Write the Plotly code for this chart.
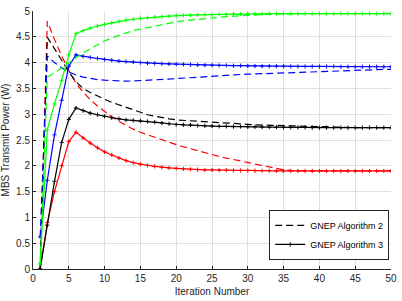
import plotly.graph_objects as go

iterations = list(range(1, 51))

red_alg2 = [0.0, 4.8, 4.45, 4.13, 3.85, 3.6, 3.43, 3.28, 3.16, 3.05,
            2.95, 2.86, 2.78, 2.71, 2.65, 2.6, 2.55, 2.5, 2.45, 2.41,
            2.37, 2.33, 2.29, 2.25, 2.21, 2.18, 2.15, 2.12, 2.09, 2.06,
            2.03, 2.0, 1.97, 1.94, 1.92, 1.91] + [1.9] * 14
red_alg3 = [0.0, 0.9, 1.5, 2.0, 2.47, 2.65, 2.54, 2.44, 2.35, 2.27,
            2.21, 2.15, 2.1, 2.06, 2.03, 2.01, 1.99, 1.97, 1.96, 1.95,
            1.94, 1.93, 1.925, 1.92, 1.92, 1.915, 1.915, 1.91, 1.91, 1.91,
            1.905, 1.905, 1.905, 1.9] + [1.9] * 16
black_alg2 = [0.0, 4.49, 4.27, 4.04, 3.82, 3.63, 3.5, 3.42, 3.35, 3.29,
              3.23, 3.18, 3.13, 3.08, 3.03, 2.99, 2.96, 2.93, 2.91, 2.89,
              2.88, 2.87, 2.86, 2.85, 2.84, 2.83, 2.82, 2.815, 2.81, 2.8,
              2.795, 2.79, 2.785, 2.78, 2.775, 2.77, 2.765, 2.76, 2.755, 2.75,
              2.75, 2.745, 2.745, 2.745, 2.74] + [2.74] * 5
black_alg3 = [0.0, 0.85, 1.7, 2.45, 2.9, 3.12, 3.07, 3.02, 2.99, 2.96,
              2.93, 2.91, 2.89, 2.88, 2.87, 2.86, 2.845, 2.83, 2.815, 2.8,
              2.795, 2.79, 2.78, 2.775, 2.77, 2.765, 2.765, 2.76, 2.76, 2.755,
              2.755, 2.75, 2.75, 2.75, 2.745, 2.745, 2.745, 2.745, 2.74] + [2.74] * 11
blue_alg2 = [0.62, 4.13, 4.0, 3.9, 3.82, 3.76, 3.72, 3.69, 3.67, 3.66,
             3.65, 3.645, 3.64, 3.645, 3.65, 3.655, 3.66, 3.67, 3.68, 3.69,
             3.7, 3.71, 3.72, 3.73, 3.74, 3.75, 3.755, 3.76, 3.77, 3.775,
             3.78, 3.79, 3.795, 3.8, 3.81, 3.815, 3.82, 3.825, 3.83, 3.835,
             3.84, 3.845, 3.85, 3.853, 3.856, 3.86, 3.863, 3.866, 3.868, 3.87]
blue_alg3 = [0.62, 1.72, 2.6, 3.27, 3.93, 4.15, 4.12, 4.1, 4.08, 4.06,
             4.045, 4.03, 4.02, 4.01, 4.0, 3.99, 3.985, 3.98, 3.975, 3.97,
             3.965, 3.96, 3.955, 3.95, 3.95, 3.945, 3.945, 3.94, 3.94, 3.935,
             3.935, 3.93, 3.93, 3.93, 3.93] + [3.925] * 7 + [3.92] * 8
green_alg2 = [0.1, 3.72, 3.8, 3.9, 4.0, 4.1, 4.19, 4.27, 4.35, 4.42,
              4.48, 4.53, 4.58, 4.62, 4.65, 4.68, 4.71, 4.74, 4.765, 4.79,
              4.81, 4.825, 4.84, 4.855, 4.87, 4.88, 4.89, 4.9, 4.91, 4.92,
              4.925, 4.93, 4.935, 4.94, 4.945] + [4.95] * 15
green_alg3 = [0.1, 2.7, 3.2, 3.65, 4.15, 4.56, 4.62, 4.67, 4.71, 4.74,
              4.77, 4.8, 4.82, 4.84, 4.855, 4.87, 4.88, 4.89, 4.9, 4.91,
              4.915, 4.92, 4.925, 4.93, 4.93, 4.935, 4.935, 4.94, 4.94, 4.945,
              4.945, 4.945] + [4.95] * 18

x_ticks = [0, 5, 10, 15, 20, 25, 30, 35, 40, 45, 50]
y_ticks = [0, 0.5, 1, 1.5, 2, 2.5, 3, 3.5, 4, 4.5, 5]
legend_names = ["GNEP Algorithm 2", "GNEP Algorithm 3"]

series = [
    ("#ff0000", red_alg2, red_alg3),
    ("#000000", black_alg2, black_alg3),
    ("#0000ff", blue_alg2, blue_alg3),
    ("#00ff00", green_alg2, green_alg3),
]

DASH = "7px,4px"
fig = go.Figure()
for color, a2, a3 in series:
    fig.add_trace(go.Scatter(x=iterations, y=a2, mode="lines",
                             line=dict(color=color, width=1.2, dash=DASH),
                             showlegend=False, hoverinfo="skip"))
    fig.add_trace(go.Scatter(x=iterations, y=a3, mode="lines+markers",
                             line=dict(color=color, width=1.2),
                             marker=dict(symbol="cross-thin", size=3,
                                         color=color, line=dict(width=1, color=color)),
                             showlegend=False, hoverinfo="skip"))

# legend entries
fig.add_trace(go.Scatter(x=[None], y=[None], mode="lines", name=legend_names[0],
                         line=dict(color="#000000", width=1.2, dash=DASH)))
fig.add_trace(go.Scatter(x=[None], y=[None], mode="lines+markers", name=legend_names[1],
                         line=dict(color="#000000", width=1.2),
                         marker=dict(symbol="cross-thin", size=3, color="#000000",
                                     line=dict(width=1, color="#000000"))))

axis_common = dict(
    showgrid=True, gridcolor="#dfdfdf", gridwidth=1,
    showline=True, linecolor="#262626", linewidth=1,
    ticks="inside", ticklen=3, tickcolor="#262626",
    tickfont=dict(family="Liberation Sans, Arial, sans-serif", size=10, color="#262626"),
    zeroline=False, mirror=False, ticklabeloverflow="allow",
)

fig.update_layout(
    width=402, height=301,
    margin=dict(l=33, r=5, t=6, b=32),
    paper_bgcolor="white", plot_bgcolor="white",
    font=dict(family="Liberation Sans, Arial, sans-serif", size=10, color="#262626"),
    xaxis=dict(range=[0, 50], tickvals=x_ticks,
               title=dict(text="Iteration Number", standoff=4,
                          font=dict(size=10, color="#262626")),
               **axis_common),
    yaxis=dict(range=[0, 5], tickvals=y_ticks,
               ticktext=[("%g" % v) for v in y_ticks],
               title=dict(text="MBS Transmit Power (W)", standoff=4,
                          font=dict(size=10, color="#262626")),
               **axis_common),
    legend=dict(x=0.995, y=0.035, xanchor="right", yanchor="bottom",
                bgcolor="white", bordercolor="#262626", borderwidth=1,
                font=dict(size=9, color="#000000"), itemwidth=30,
                tracegroupgap=0),
)

fig.write_html("out.html", config={"displayModeBar": False},
               post_script="document.body.style.margin='0';document.body.style.padding='0';")
